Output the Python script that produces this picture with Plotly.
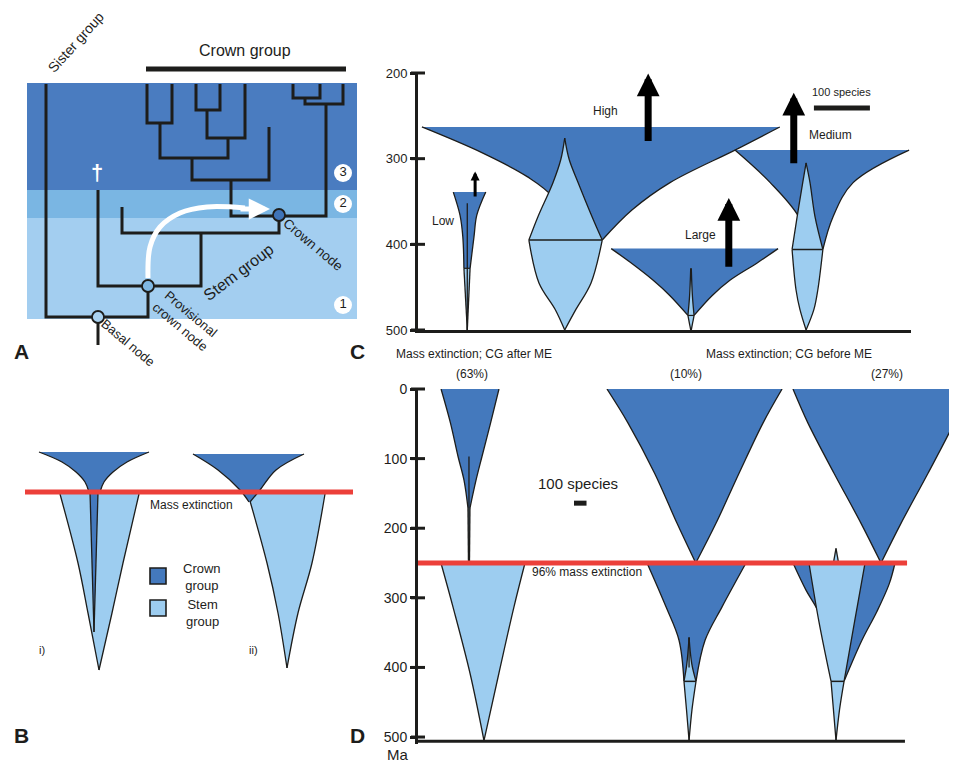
import plotly.graph_objects as go

# ---------------- colours ----------------
DARK = "#4479bd"
LIGHT = "#9dcdf0"
INK = "#1d1d1b"
RED = "#ec403a"
BAND_COLORS = ["#4a7cc0", "#7ab6e3", "#a3cef0"]
FONT = "Liberation Sans, Arial, sans-serif"

# ---------------- Panel A : tree (x = taxon position, t = time depth) ----------------
BAND_T = [0, 107, 135, 236]
BAND_X = [0, 330]
TREE_PATHS = [
    [(19, 1), (19, 234), (121, 234), (121, 203)],
    [(71, 234), (71, 262)],
    [(71, 107), (71, 203), (174, 203), (174, 150)],
    [(95, 124), (95, 150), (252, 150), (252, 133)],
    [(204, 97), (204, 133), (299, 133), (299, 21)],
    [(165, 75), (165, 97), (242, 97), (242, 44)],
    [(133, 40), (133, 75), (201, 75), (201, 55)],
    [(120, 1), (120, 40), (145, 40), (145, 1)],
    [(180, 27), (180, 55), (218, 55), (218, 1)],
    [(169, 1), (169, 27), (193, 27), (193, 1)],
    [(316, 1), (316, 21), (278, 21), (278, 15)],
    [(266, 1), (266, 15), (293, 15), (293, 1)],
]
NODE_X = [71, 121, 252]
NODE_T = [234, 203, 132]
NODE_COLORS = ["#aad2f0", "#7fb8e4", "#3f74b8"]
ARROW_X = [121, 123, 133, 153, 180, 218]
ARROW_T = [195, 164, 144, 130, 124, 125]
ZONE_LABELS = ["3", "2", "1"]
ZONE_T = [90, 121, 222]
CROWN_BAR_X = [119, 319]

# ---------------- Panel B : schematic spindles (t, x) ----------------
B_I_STEM_L = [(64, 60), (133, 78), (183, 88), (240, 99)]
B_I_STEM_R = [(64, 139), (133, 123), (183, 112), (240, 99)]
B_I_CROWN_L = [(22, 39), (32, 62), (42, 76), (52, 85), (62, 89)]
B_I_CROWN_R = [(22, 149), (32, 127), (42, 113), (52, 104), (62, 100)]
B_I_SLIVER_L = [(62, 90), (202, 94)]
B_I_SLIVER_R = [(62, 98), (202, 94)]
B_II_STEM_L = [(64, 248), (133, 267), (183, 278), (238, 287)]
B_II_STEM_R = [(64, 325), (133, 312), (183, 298), (238, 287)]
B_II_CROWN_L = [(24, 193), (40, 218), (60, 240), (72, 249)]
B_II_CROWN_R = [(24, 304), (40, 276), (60, 260), (72, 250)]
B_ME_T = 62
B_ME_X = [25, 353]

# ---------------- Panel C : (Ma, species) ----------------
C_TICKS = [200, 300, 400, 500]
LOW_CROWN_L = [(428, 82), (391, 80), (366, 75), (339, 63)]
LOW_CROWN_R = [(428, 93), (391, 100), (366, 105), (339, 121)]
LOW_STEM_L = [(428, 82), (500, 88)]
LOW_STEM_R = [(428, 93), (500, 88)]
HIGH_CROWN_L = [(395, 280), (345, 241), (321, 195), (293, 114), (263, 7)]
HIGH_CROWN_R = [(395, 329), (360, 382), (328, 450), (290, 566), (263, 646)]
HIGH_STEM_UP_L = [(276, 262), (301, 255), (328, 241), (368, 214), (395, 198)]
HIGH_STEM_UP_R = [(276, 262), (301, 270), (328, 286), (368, 311), (395, 329)]
HIGH_STEM_LO_L = [(395, 198), (445, 216), (476, 245), (500, 262)]
HIGH_STEM_LO_R = [(395, 329), (445, 309), (476, 282), (500, 262)]
LARGE_CROWN_L = [(483, 482), (460, 450), (442, 420), (421, 379), (405, 345)]
LARGE_CROWN_R = [(483, 493), (460, 525), (442, 557), (422, 605), (405, 643)]
LARGE_STEM_UP_L = [(428, 487), (460, 485), (483, 482)]
LARGE_STEM_UP_R = [(428, 488), (460, 490), (483, 493)]
LARGE_STEM_LO_L = [(483, 482), (500, 487)]
LARGE_STEM_LO_R = [(483, 493), (500, 488)]
MED_CROWN_L = [(406, 700), (368, 680), (328, 629), (290, 566)]
MED_CROWN_R = [(406, 723), (368, 741), (328, 777), (290, 877)]
MED_STEM_UP_L = [(305, 693), (328, 687), (368, 677), (406, 668)]
MED_STEM_UP_R = [(305, 693), (328, 700), (368, 709), (406, 723)]
MED_STEM_LO_L = [(406, 668), (453, 675), (476, 682), (500, 693)]
MED_STEM_LO_R = [(406, 723), (453, 714), (476, 707), (500, 693)]
C_ARROW_X = [102, 411, 555, 671]
C_ARROW_FROM = [346, 281, 428, 307]
C_ARROW_TO = [315, 200.5, 346, 223]
C_LABELS = ["Low", "High", "Large", "Medium"]
C_LABEL_X = [44, 335, 504, 736]
C_LABEL_MA = [373, 244, 389, 272]
C_SCALE_X = [707, 807]
C_SCALE_MA = 241

# ---------------- Panel D : (Ma, species) ----------------
D_TICKS = [0, 100, 200, 300, 400, 500]
D_ME = 250
D_L_CROWN_L = [(0, 186), (49, 262), (97, 323), (131, 371), (171, 403)]
D_L_CROWN_R = [(0, 653), (49, 585), (97, 516), (131, 468), (171, 419)]
D_L_STEM_UP_L = [(171, 403), (250, 407)]
D_L_STEM_UP_R = [(171, 419), (250, 415)]
D_L_STEM_LO_L = [(250, 185), (313, 282), (408, 419), (505, 532)]
D_L_STEM_LO_R = [(250, 863), (313, 774), (408, 653), (505, 532)]
D_M_CROWN_UP_L = [(0, 1524), (49, 1694), (121, 1908), (193, 2089), (250, 2240)]
D_M_CROWN_UP_R = [(0, 2936), (49, 2782), (121, 2589), (193, 2403), (250, 2240)]
D_M_CROWN_LO_L = [(250, 1847), (313, 2000), (361, 2105), (420, 2145)]
D_M_CROWN_LO_R = [(250, 2645), (313, 2452), (361, 2315), (420, 2242)]
D_M_STEM_UP_L = [(357, 2186), (395, 2168), (420, 2145)]
D_M_STEM_UP_R = [(357, 2186), (395, 2208), (420, 2242)]
D_M_STEM_LO_L = [(420, 2145), (460, 2165), (505, 2186)]
D_M_STEM_LO_R = [(420, 2242), (460, 2210), (505, 2186)]
D_R_CROWN_UP_L = [(0, 3024), (49, 3145), (121, 3355), (193, 3573), (250, 3734)]
D_R_CROWN_UP_R = [(0, 4444), (49, 4323), (121, 4113), (193, 3895), (250, 3734)]
D_R_CROWN_LO_L = [(250, 3024), (289, 3129), (322, 3234), (420, 3400)]
D_R_CROWN_LO_R = [(250, 3847), (280, 3800), (320, 3700), (361, 3580), (420, 3436)]
D_R_STEM_UP_L = [(250, 3153), (335, 3234), (420, 3331)]
D_R_STEM_UP_R = [(250, 3605), (335, 3520), (420, 3436)]
D_R_SPIKE_L = [(229, 3371), (250, 3350)]
D_R_SPIKE_R = [(229, 3371), (250, 3392)]
D_R_STEM_LO_L = [(420, 3331), (460, 3350), (505, 3371)]
D_R_STEM_LO_R = [(420, 3436), (460, 3400), (505, 3371)]
D_ME_X = [0, 3944]
D_BASE_X = [0, 3927]
D_BASE_MA = 506
D_SCALE_X = [1258, 1359]
D_SCALE_MA = 164

fig = go.Figure()


def add_line(xs, ys, ax, color=INK, width=1.3, shape="linear"):
    fig.add_trace(go.Scatter(x=xs, y=ys, mode="lines", xaxis=ax[0], yaxis=ax[1],
                             line=dict(color=color, width=width, shape=shape),
                             hoverinfo="skip", showlegend=False))


def add_spindle(left, right, color, ax):
    fig.add_trace(go.Scatter(x=[p[1] for p in left], y=[p[0] for p in left], mode="lines",
                             xaxis=ax[0], yaxis=ax[1],
                             line=dict(color=INK, width=1.3, shape="spline"),
                             hoverinfo="skip", showlegend=False))
    fig.add_trace(go.Scatter(x=[p[1] for p in right], y=[p[0] for p in right], mode="lines",
                             xaxis=ax[0], yaxis=ax[1], fill="tonextx", fillcolor=color,
                             line=dict(color=INK, width=1.3, shape="spline"),
                             hoverinfo="skip", showlegend=False))


AX_A, AX_B, AX_C, AX_D = ("x", "y"), ("x2", "y2"), ("x3", "y3"), ("x4", "y4")

# ---------------- Panel A ----------------
shapes = []
for i in range(3):
    shapes.append(dict(type="rect", xref="x", yref="y", x0=BAND_X[0], x1=BAND_X[1],
                       y0=BAND_T[i], y1=BAND_T[i + 1], fillcolor=BAND_COLORS[i],
                       line=dict(width=0), layer="below"))
tx, tt = [], []
for path in TREE_PATHS:
    tx += [p[0] for p in path] + [None]
    tt += [p[1] for p in path] + [None]
add_line(tx, tt, AX_A, width=3)
add_line(CROWN_BAR_X, [-14, -14], AX_A, width=5)
add_line(ARROW_X, ARROW_T, AX_A, color="white", width=5, shape="spline")
fig.add_trace(go.Scatter(x=NODE_X, y=NODE_T, mode="markers", xaxis="x", yaxis="y",
                         marker=dict(size=12, color=NODE_COLORS, line=dict(color=INK, width=1.8)),
                         hoverinfo="skip", showlegend=False))
fig.add_trace(go.Scatter(x=[316] * 3, y=ZONE_T, mode="markers+text", xaxis="x", yaxis="y",
                         text=ZONE_LABELS, textposition="middle center",
                         textfont=dict(family=FONT, size=13, color=INK),
                         marker=dict(size=18, color="white", line=dict(width=0)),
                         hoverinfo="skip", showlegend=False))

# ---------------- Panel B ----------------
add_spindle(B_I_STEM_L, B_I_STEM_R, LIGHT, AX_B)
add_spindle(B_I_CROWN_L, B_I_CROWN_R, DARK, AX_B)
add_spindle(B_I_SLIVER_L, B_I_SLIVER_R, DARK, AX_B)
add_spindle(B_II_STEM_L, B_II_STEM_R, LIGHT, AX_B)
add_spindle(B_II_CROWN_L, B_II_CROWN_R, DARK, AX_B)
add_line(B_ME_X, [B_ME_T, B_ME_T], AX_B, color=RED, width=5)
fig.add_trace(go.Scatter(x=[158, 158], y=[146, 178], mode="markers", xaxis="x2", yaxis="y2",
                         marker=dict(symbol="square", size=16, color=[DARK, LIGHT],
                                     line=dict(color=INK, width=1.6)),
                         hoverinfo="skip", showlegend=False))

# ---------------- Panel C ----------------
add_spindle(LOW_CROWN_L, LOW_CROWN_R, DARK, AX_C)
add_spindle(LOW_STEM_L, LOW_STEM_R, LIGHT, AX_C)
add_line([88, 88], [352, 500], AX_C, width=1.3)
add_line([82, 93], [428, 428], AX_C, width=1.2)
add_spindle(HIGH_CROWN_L, HIGH_CROWN_R, DARK, AX_C)
add_spindle(HIGH_STEM_UP_L, HIGH_STEM_UP_R, LIGHT, AX_C)
add_spindle(HIGH_STEM_LO_L, HIGH_STEM_LO_R, LIGHT, AX_C)
add_line([198, 329], [395, 395], AX_C, width=1.5)
add_spindle(LARGE_CROWN_L, LARGE_CROWN_R, DARK, AX_C)
add_spindle(LARGE_STEM_UP_L, LARGE_STEM_UP_R, LIGHT, AX_C)
add_spindle(LARGE_STEM_LO_L, LARGE_STEM_LO_R, LIGHT, AX_C)
add_line([482, 493], [483, 483], AX_C, width=1.2)
add_spindle(MED_CROWN_L, MED_CROWN_R, DARK, AX_C)
add_spindle(MED_STEM_UP_L, MED_STEM_UP_R, LIGHT, AX_C)
add_spindle(MED_STEM_LO_L, MED_STEM_LO_R, LIGHT, AX_C)
add_line([668, 723], [406, 406], AX_C, width=1.5)
add_line(C_SCALE_X, [C_SCALE_MA, C_SCALE_MA], AX_C, width=5)
fig.add_trace(go.Scatter(x=[0] * len(C_TICKS), y=C_TICKS, mode="markers", xaxis="x3", yaxis="y3",
                         cliponaxis=False,
                         marker=dict(symbol="line-ew", size=10, line=dict(color=INK, width=3)),
                         hoverinfo="skip", showlegend=False))

# ---------------- Panel D ----------------
add_spindle(D_L_CROWN_L, D_L_CROWN_R, DARK, AX_D)
add_spindle(D_L_STEM_UP_L, D_L_STEM_UP_R, LIGHT, AX_D)
add_line([411, 411], [97, 250], AX_D, width=1.3)
add_spindle(D_L_STEM_LO_L, D_L_STEM_LO_R, LIGHT, AX_D)
add_spindle(D_M_CROWN_UP_L, D_M_CROWN_UP_R, DARK, AX_D)
add_spindle(D_M_CROWN_LO_L, D_M_CROWN_LO_R, DARK, AX_D)
add_spindle(D_M_STEM_UP_L, D_M_STEM_UP_R, LIGHT, AX_D)
add_spindle(D_M_STEM_LO_L, D_M_STEM_LO_R, LIGHT, AX_D)
add_line([2186, 2186], [357, 400], AX_D, width=1.3)
add_line([2145, 2242], [420, 420], AX_D, width=1.5)
add_spindle(D_R_CROWN_UP_L, D_R_CROWN_UP_R, DARK, AX_D)
add_spindle(D_R_CROWN_LO_L, D_R_CROWN_LO_R, DARK, AX_D)
add_spindle(D_R_STEM_UP_L, D_R_STEM_UP_R, LIGHT, AX_D)
add_spindle(D_R_SPIKE_L, D_R_SPIKE_R, LIGHT, AX_D)
add_spindle(D_R_STEM_LO_L, D_R_STEM_LO_R, LIGHT, AX_D)
add_line([3331, 3436], [420, 420], AX_D, width=1.5)
add_line(D_ME_X, [D_ME, D_ME], AX_D, color=RED, width=5)
add_line(D_BASE_X, [D_BASE_MA, D_BASE_MA], AX_D, width=3)
add_line(D_SCALE_X, [D_SCALE_MA, D_SCALE_MA], AX_D, width=5)
fig.add_trace(go.Scatter(x=[0] * len(D_TICKS), y=D_TICKS, mode="markers", xaxis="x4", yaxis="y4",
                         cliponaxis=False,
                         marker=dict(symbol="line-ew", size=10, line=dict(color=INK, width=3)),
                         hoverinfo="skip", showlegend=False))

# ---------------- layout helpers (page offset compensation) ----------------
W, H = 957.0, 762.0
OFF = 8.0


def PX(x):
    return (x - OFF) / W


def PY(y):
    return 1 - (y - OFF) / H


ann = []


def txt(x, y, s, size, xref, yref, angle=0, color=INK, bold=False, xanchor="center"):
    ann.append(dict(x=x, y=y, xref=xref, yref=yref, text=("<b>%s</b>" % s) if bold else s,
                    showarrow=False, textangle=angle, xanchor=xanchor, yanchor="middle",
                    font=dict(family=FONT, size=size, color=color)))


# panel A texts
txt(218, -33, "Crown group", 16, "x", "y")
txt(49, -41, "Sister group", 14, "x", "y", angle=-48)
txt(211, 189, "Stem group", 16, "x", "y", angle=-37)
txt(286, 161, "Crown node", 13.5, "x", "y", angle=40)
txt(158, 237, "Provisional<br>crown node", 13, "x", "y", angle=40)
txt(101, 259, "Basal node", 13, "x", "y", angle=40)
txt(70, 89, "†", 22, "x", "y", color="white", bold=True)
ann.append(dict(x=243, y=126, ax=212, ay=126, xref="x", yref="y", axref="x", ayref="y",
                showarrow=True, arrowhead=2, arrowsize=0.85, arrowwidth=5, arrowcolor="white",
                text=""))
# panel B texts
txt(191, 75, "Mass extinction", 12, "x2", "y2")
txt(42, 220, "i)", 11, "x2", "y2")
txt(253, 220, "ii)", 11, "x2", "y2")
txt(202, 147, "Crown<br>group", 13, "x2", "y2")
txt(202, 183, "Stem<br>group", 13, "x2", "y2")
# panel C texts and arrows
for lab, lx, lm in zip(C_LABELS, C_LABEL_X, C_LABEL_MA):
    txt(lx, lm, lab, 12, "x3", "y3")
txt(757, 222, "100 species", 11, "x3", "y3")
for i, (axx, a0, a1) in enumerate(zip(C_ARROW_X, C_ARROW_FROM, C_ARROW_TO)):
    small = i == 0
    ann.append(dict(x=axx, y=a1, ax=axx, ay=a0, xref="x3", yref="y3", axref="x3", ayref="y3",
                    showarrow=True, arrowhead=2, arrowsize=0.6 if small else 0.65,
                    arrowwidth=3 if small else 7, arrowcolor="black", text=""))
# panel D texts
txt(1363, 263, "96% mass extinction", 12, "x4", "y4")
txt(1290, 136, "100 species", 15, "x4", "y4")
txt(PX(474), PY(354), "Mass extinction; CG after ME", 12, "paper", "paper")
txt(PX(789), PY(354), "Mass extinction; CG before ME", 12, "paper", "paper")
txt(PX(472), PY(374), "(63%)", 12, "paper", "paper")
txt(PX(686), PY(374), "(10%)", 12, "paper", "paper")
txt(PX(887), PY(374), "(27%)", 12, "paper", "paper")
txt(PX(397), PY(754), "Ma", 15, "paper", "paper")
# panel letters
for lab, px, py in [("A", 21, 352), ("C", 357, 352), ("B", 21, 735), ("D", 357, 735)]:
    txt(PX(px), PY(py), lab, 21, "paper", "paper", bold=True)

hidden = dict(visible=False, showgrid=False, zeroline=False)
fig.update_layout(
    width=957, height=762, autosize=False,
    margin=dict(l=0, r=0, t=0, b=0, pad=0, autoexpand=False),
    paper_bgcolor="white", plot_bgcolor="rgba(0,0,0,0)",
    showlegend=False, shapes=shapes, annotations=ann,
    xaxis=dict(domain=[0, PX(370)], range=[-19, 343], **hidden),
    yaxis=dict(domain=[PY(370), 1], range=[287, -75], **hidden),
    xaxis2=dict(domain=[0, PX(370)], range=[8, 370], anchor="y2", **hidden),
    yaxis2=dict(domain=[PY(762), PY(430)], range=[332, 0], anchor="x2", **hidden),
    xaxis3=dict(domain=[PX(418), PX(418 + 880 * 0.56)], range=[0, 880], anchor="y3",
                showline=True, linewidth=3, linecolor=INK, showticklabels=False, ticks="",
                showgrid=False, zeroline=False),
    yaxis3=dict(domain=[PY(330), PY(73)], range=[500, 200], anchor="x3",
                showline=True, linewidth=3, linecolor=INK, tickvals=C_TICKS,
                ticks="outside", ticklen=5, tickwidth=3, tickcolor=INK,
                tickfont=dict(family=FONT, size=13, color=INK),
                showgrid=False, zeroline=False),
    xaxis4=dict(domain=[PX(418), 1], range=[0, (W + OFF - 418) / 0.124], anchor="y4", **hidden),
    yaxis4=dict(domain=[PY(744), PY(389)], range=[510, 0], anchor="x4",
                showline=True, linewidth=3, linecolor=INK, tickvals=D_TICKS,
                ticks="outside", ticklen=5, tickwidth=3, tickcolor=INK,
                tickfont=dict(family=FONT, size=14, color=INK),
                showgrid=False, zeroline=False),
)

fig.write_html("out.html")
